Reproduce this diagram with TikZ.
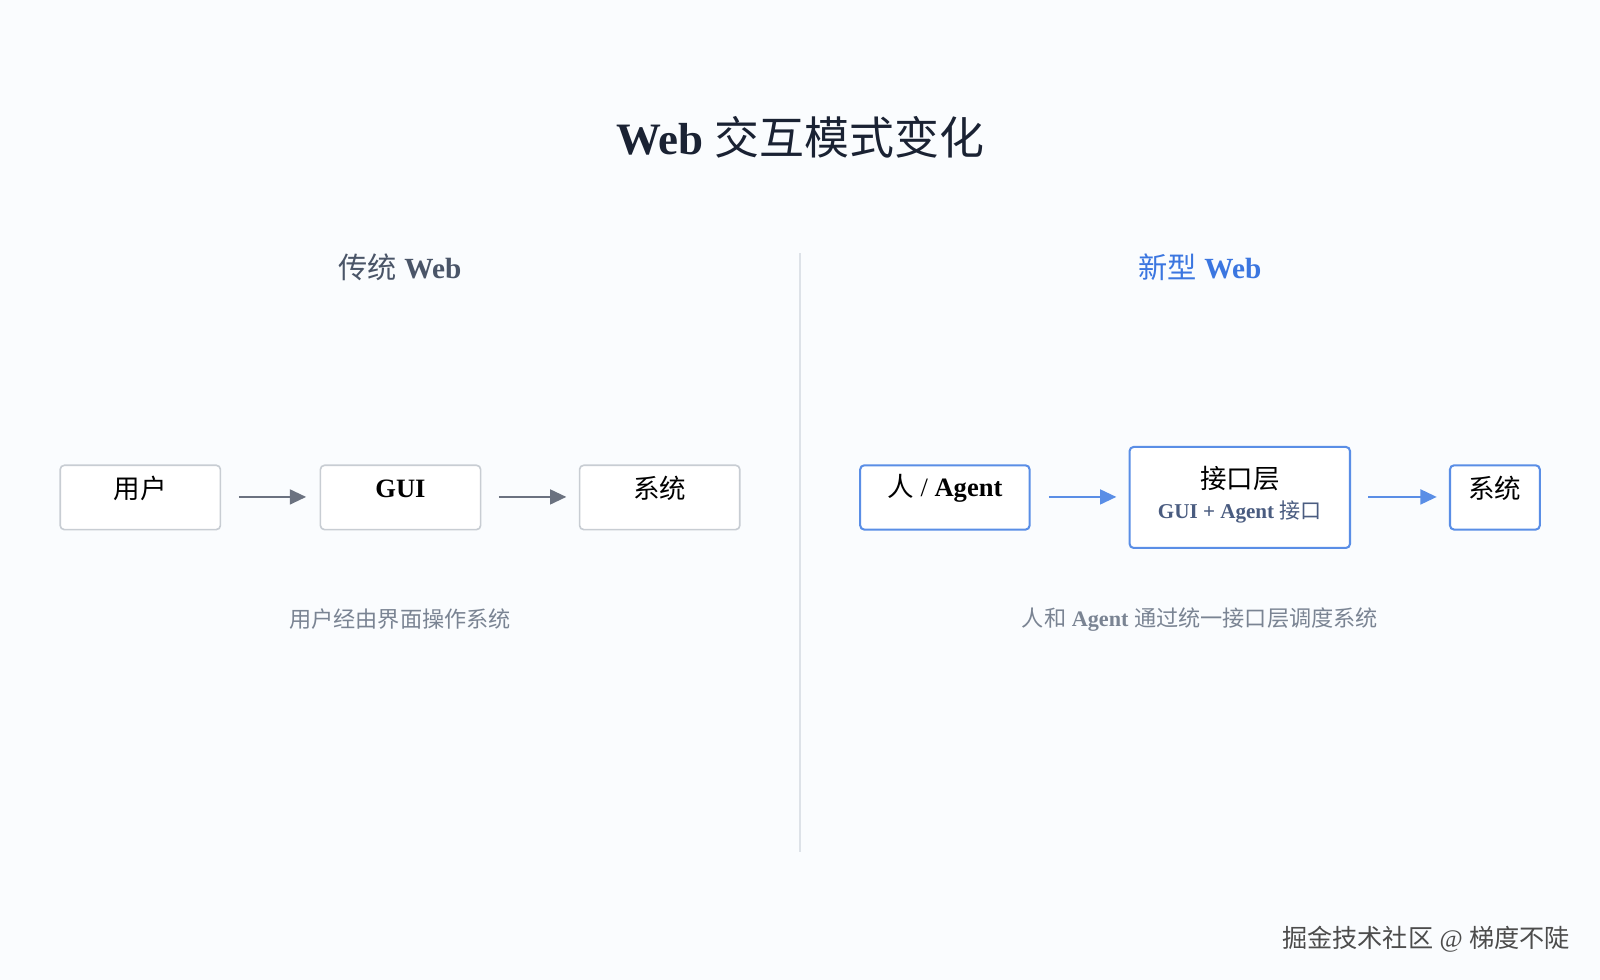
\documentclass[tikz,border=0pt]{standalone}
\usepackage{fontspec}
\setmainfont{Liberation Serif}
\newfontfamily\cjk{Noto Sans CJK SC}
\usetikzlibrary{arrows.meta}
\definecolor{bg}{HTML}{FAFCFE}
\definecolor{titlec}{HTML}{1A2233}
\definecolor{graytxt}{HTML}{4A5568}
\definecolor{bluetxt}{HTML}{3B76E0}
\definecolor{grayline}{HTML}{C8CDD3}
\definecolor{bluebox}{HTML}{5A8EE6}
\definecolor{grayarrow}{HTML}{6B7280}
\definecolor{cap}{HTML}{7A8493}
\definecolor{sub}{HTML}{4A5C80}
\definecolor{divc}{HTML}{DDE2E8}
\begin{document}
\begin{tikzpicture}[x=0.75pt,y=-0.75pt,
  gbox/.style={draw=grayline,line width=1.2pt,rounded corners=3pt,fill=white},
  bbox/.style={draw=bluebox,line width=1.5pt,rounded corners=3pt,fill=white},
  lbl/.style={font=\fontsize{19.5}{22}\selectfont,text=black,anchor=center},
  garr/.style={draw=grayarrow,line width=1.5pt,-{Triangle[length=12pt,width=11pt]}},
  barr/.style={draw=bluebox,line width=1.5pt,-{Triangle[length=12pt,width=11pt]}},
  capt/.style={font=\fontsize{16.3}{19}\selectfont,text=cap}]
\useasboundingbox (0,0) rectangle (1568,960);
\fill[bg] (0,0) rectangle (1568,960);
\node (title) at (784,135) {\fontsize{33}{38}\selectfont\color{titlec}\textbf{Web} {\cjk 交互模式变化}};
\coordinate (d1) at (784,248); \coordinate (d2) at (784,835);
\draw[divc,line width=1pt] (d1) -- (d2);
\node (lh) at (392,262) {\fontsize{21.5}{24}\selectfont\color{graytxt}{\cjk 传统} \textbf{Web}};
\node (rh) at (1176,262) {\fontsize{21.5}{24}\selectfont\color{bluetxt}{\cjk 新型} \textbf{Web}};
% left
\draw[gbox] (59,456) rectangle (216,519); \node[lbl] (u) at (137.5,479) {\cjk 用户};
\draw[gbox] (314,456) rectangle (471,519); \node[lbl] (g) at (392.5,479) {\textbf{GUI}};
\draw[gbox] (568,456) rectangle (725,519); \node[lbl] (s) at (646.5,479) {\cjk 系统};
\coordinate (a1) at (234,487); \coordinate (a2) at (300,487);
\coordinate (a3) at (489,487); \coordinate (a4) at (555,487);
\draw[garr] (a1) -- (a2); \draw[garr] (a3) -- (a4);
\node[capt] (lc) at (392,607) {\cjk 用户经由界面操作系统};
% right
\draw[bbox] (843,456) rectangle (1009,519); \node[lbl] (ag) at (926,479) {{\cjk 人} / \textbf{Agent}};
\draw[bbox] (1107,438) rectangle (1323,537);
\node[lbl] (il) at (1215,469) {\cjk 接口层};
\node (il2) at (1215,502) {\fontsize{15.5}{18}\selectfont\color{sub}\textbf{GUI + Agent} {\cjk 接口}};
\draw[bbox] (1421,456) rectangle (1509,519); \node[lbl] (s2) at (1465,479) {\cjk 系统};
\coordinate (b1) at (1028,487); \coordinate (b2) at (1094,487);
\coordinate (b3) at (1341,487); \coordinate (b4) at (1408,487);
\draw[barr] (b1) -- (b2); \draw[barr] (b3) -- (b4);
\node[capt] (rc) at (1176,607) {{\cjk 人和} \textbf{Agent} {\cjk 通过统一接口层调度系统}};
\node[anchor=east,font=\fontsize{18.5}{20}\selectfont,text=black!70] (wm) at (1543,920) {{\cjk 掘金技术社区} @ {\cjk 梯度不陡}};
\end{tikzpicture}
\end{document}
